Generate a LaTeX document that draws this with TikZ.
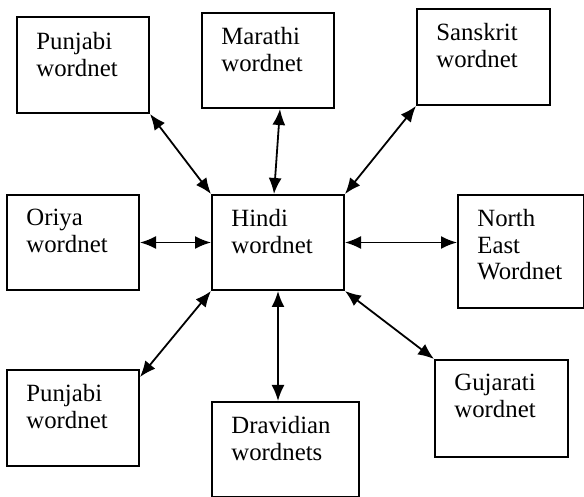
\documentclass[tikz,border=0pt]{standalone}
\usepackage{fontspec}
\setmainfont{Liberation Serif}
\usetikzlibrary{arrows.meta}
\tikzset{
	wbox/.style={draw, rectangle, line width=1pt, inner sep=0pt, anchor=north west},
	wtext/.style={anchor=north west, align=left, inner sep=0pt, font={\fontsize{12.4}{13.3}\selectfont}},
	link/.style={{Latex[length=8pt,width=6.5pt]}-{Latex[length=8pt,width=6.5pt]}, line width=0.9pt}
}
\begin{document}
\begin{tikzpicture}[x=0.5pt, y=-0.5pt]
	\useasboundingbox (0,0) rectangle (584,497);
	
	\node[wbox, minimum width=66pt, minimum height=47.5pt](HIN) at (211,194){};
	\node[wtext](T-HIN) at ([shift={(20,15)}]HIN.north west){Hindi\\wordnet};
	
	\node[wbox, minimum width=66pt, minimum height=48pt](PUN1) at (16,16){};
	\node[wtext](T-PUN1) at ([shift={(20,16)}]PUN1.north west){Punjabi\\wordnet};
	
	\node[wbox, minimum width=66pt, minimum height=47.5pt](MAR) at (201,12){};
	\node[wtext](T-MAR) at ([shift={(20,15)}]MAR.north west){Marathi\\wordnet};
	
	\node[wbox, minimum width=66.5pt, minimum height=48pt](SAN) at (416,8){};
	\node[wtext](T-SAN) at ([shift={(20,15)}]SAN.north west){Sanskrit\\wordnet};
	
	\node[wbox, minimum width=66pt, minimum height=47.5pt](ORI) at (6,194){};
	\node[wtext](T-ORI) at ([shift={(20,15)}]ORI.north west){Oriya\\wordnet};
	
	\node[wbox, minimum width=63pt, minimum height=56.5pt](NE) at (457,194){};
	\node[wtext](T-NE) at ([shift={(20,15)}]NE.north west){North\\East\\Wordnet};
	
	\node[wbox, minimum width=66pt, minimum height=48pt](PUN2) at (6,369){};
	\node[wtext](T-PUN2) at ([shift={(20,15)}]PUN2.north west){Punjabi\\wordnet};
	
	\node[wbox, minimum width=73.5pt, minimum height=47.5pt](DRA) at (211,401){};
	\node[wtext](T-DRA) at ([shift={(20,15)}]DRA.north west){Dravidian\\wordnets};
	
	\node[wbox, minimum width=66.5pt, minimum height=48.5pt](GUJ) at (434,359){};
	\node[wtext](T-GUJ) at ([shift={(20,15)}]GUJ.north west){Gujarati\\wordnet};
	
	% links to the hub
	\draw[link] (PUN1.south east) -- (HIN.north west);
	\draw[link] ([xshift=6pt]MAR.south) -- ([xshift=-2pt]HIN.north);
	\draw[link] (SAN.south west) -- (HIN.north east);
	\draw[link] (ORI.east) -- (HIN.west);
	\draw[link] (HIN.east) -- (HIN.east -| NE.west);
	\draw[link] (HIN.south west) -- ([yshift=-4pt]PUN2.north east);
	\draw[link] (HIN.south) -- (HIN.south |- DRA.north);
	\draw[link] (HIN.south east) -- (GUJ.north west);
\end{tikzpicture}
\end{document}
